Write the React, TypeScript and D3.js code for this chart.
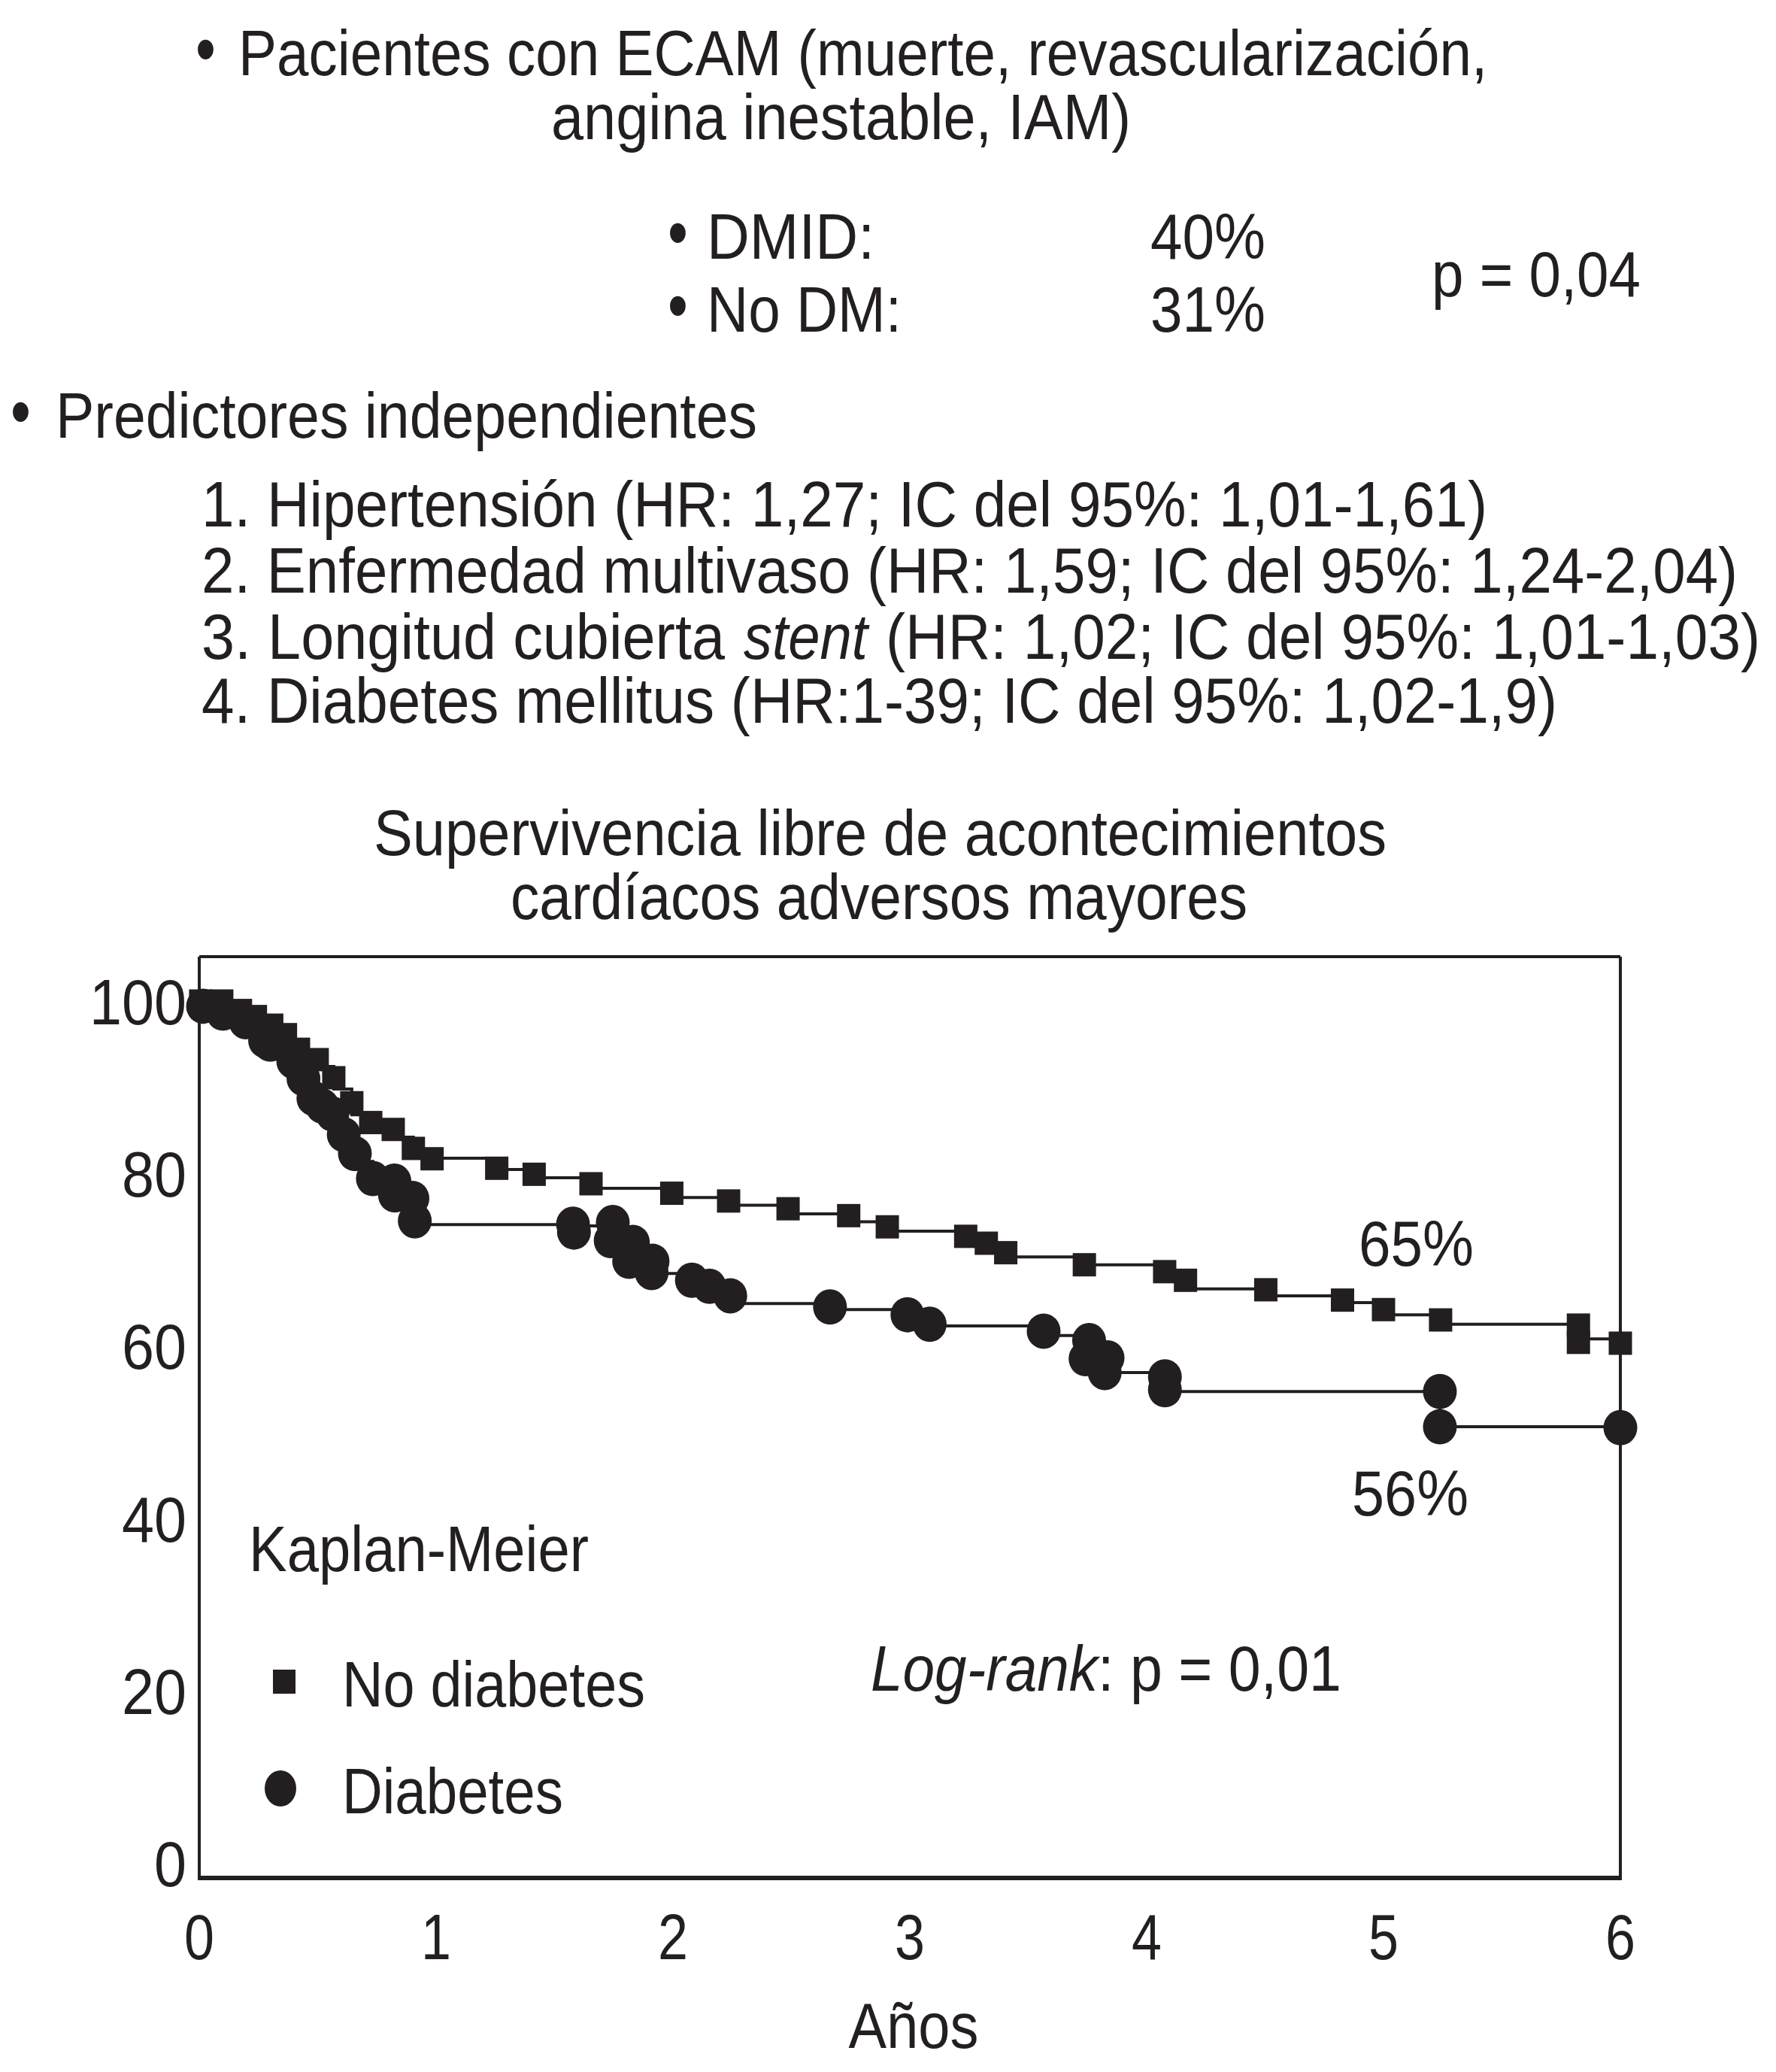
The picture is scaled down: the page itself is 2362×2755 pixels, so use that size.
import React, { useLayoutEffect, useRef, useState } from 'react';
import * as d3 from 'd3';

// ---- Data ----
const yearTicks = [0, 1, 2, 3, 4, 5, 6];
const survivalTicks = [0, 20, 40, 60, 80, 100];

// No diabetes: Kaplan-Meier step curve (time in years, survival %)
const noDiabCurveT = [0, 0.174, 0.237, 0.306, 0.364, 0.419, 0.498, 0.568, 0.644, 0.724, 0.819, 0.904, 0.983, 1.256, 1.414, 1.654, 1.995, 2.235, 2.486, 2.742, 2.905, 3.236, 3.323, 3.405, 3.737, 4.076, 4.164, 4.503, 4.827, 5.0, 5.241, 5.823, 6.0];
const noDiabCurveV = [100, 98.4, 97.8, 96.6, 95.4, 93.8, 92.4, 89.8, 86.8, 85.5, 84.2, 82.2, 81.76, 80.45, 79.5, 78.27, 77.2, 76.3, 75.3, 74.4, 73.3, 72.3, 71.3, 70.3, 69.4, 68.0, 66.6, 65.8, 65.0, 63.6, 62.5, 60.8, 60.8];
// No diabetes: square markers
const noDiabMarkT = [0.006, 0.095, 0.174, 0.237, 0.306, 0.364, 0.419, 0.498, 0.568, 0.644, 0.724, 0.819, 0.904, 0.983, 1.256, 1.414, 1.654, 1.995, 2.235, 2.486, 2.742, 2.905, 3.236, 3.323, 3.405, 3.737, 4.076, 4.164, 4.503, 4.827, 5.0, 5.241, 5.823, 5.823, 6.0];
const noDiabMarkV = [100, 100, 98.9, 98.2, 97.2, 96.1, 94.4, 93.2, 91.1, 88.2, 85.9, 85.1, 82.9, 81.7, 80.6, 79.9, 78.8, 77.7, 76.8, 75.9, 75.1, 73.8, 72.7, 71.9, 70.8, 69.4, 68.6, 67.6, 66.5, 65.3, 64.2, 63.0, 62.4, 60.4, 60.3];

// Diabetes: Kaplan-Meier step curve
const diabCurveT = [0, 0.016, 0.1, 0.196, 0.278, 0.397, 0.44, 0.482, 0.52, 0.562, 0.61, 0.657, 0.733, 0.826, 0.9, 0.91, 1.578, 1.737, 1.831, 1.91, 2.08, 2.154, 2.242, 2.663, 2.99, 3.084, 3.565, 3.742, 3.823, 4.077, 5.238, 6.0];
const diabCurveV = [100, 98.8, 98.2, 96.6, 95.0, 92.4, 90.4, 88.0, 87.4, 85.6, 83.8, 81.4, 79.0, 77.0, 76.0, 74.06, 73.9, 72.4, 70.5, 68.4, 67.3, 66.3, 64.9, 64.2, 63.2, 62.3, 61.2, 59.5, 56.9, 54.7, 50.6, 50.6];
// Diabetes: circle markers
const diabMarkT = [0.016, 0.1, 0.196, 0.278, 0.3, 0.397, 0.44, 0.482, 0.52, 0.562, 0.61, 0.657, 0.733, 0.824, 0.826, 0.9, 0.91, 1.578, 1.582, 1.737, 1.746, 1.815, 1.831, 1.91, 1.914, 2.08, 2.154, 2.242, 2.663, 2.99, 3.084, 3.565, 3.742, 3.757, 3.823, 3.835, 4.077, 4.077, 5.238, 5.238, 6.0];
const diabMarkV = [99.4, 98.6, 97.6, 95.4, 95.0, 93.0, 91.0, 88.7, 87.8, 86.9, 84.5, 82.3, 79.4, 79.1, 77.5, 77.1, 74.5, 74.1, 73.2, 72.2, 74.3, 69.8, 72.0, 68.5, 69.8, 67.6, 66.9, 65.8, 64.5, 63.6, 62.5, 61.7, 58.5, 60.6, 56.9, 58.6, 56.4, 54.9, 54.7, 50.6, 50.5];

const INK = '#231f20';
const FONT = "'Liberation Sans', Arimo, Arial, sans-serif";
const FS = 86;
const DEFAULT_SX = 0.8;

type TProps = { x: number; y: number; w?: number; anchor?: 'start' | 'middle' | 'end'; italic?: boolean; children: React.ReactNode; size?: number };

// Text horizontally condensed (the reference uses a condensed typeface); when w is
// given, the condensing factor is measured so the text spans w pixels.
function T({ x, y, w, anchor = 'start', italic, children, size = FS }: TProps) {
  const ref = useRef<SVGTextElement>(null);
  const [sx, setSx] = useState(DEFAULT_SX);
  useLayoutEffect(() => {
    if (w && ref.current) {
      const len = ref.current.getComputedTextLength();
      if (len > 0) setSx(w / len);
    }
  }, [w]);
  return (
    <text
      ref={ref}
      transform={`translate(${x},${y}) scale(${sx},1)`}
      x={0}
      y={0}
      textAnchor={anchor}
      fontFamily={FONT}
      fontSize={size}
      fill={INK}
      fontStyle={italic ? 'italic' : 'normal'}
    >
      {children}
    </text>
  );
}

export default function App() {
  const W = 2362;
  const H = 2755;
  const left = 265, right = 2155, top = 1272, bottom = 2497;

  const x = d3.scaleLinear().domain([0, 6]).range([left, right]);
  const y = d3.scaleLinear().domain([0, 100]).range([2477, 1331]);

  const line = d3
    .line<[number, number]>()
    .x((d) => x(d[0]))
    .y((d) => y(d[1]))
    .curve(d3.curveStepAfter);

  const noDiabPts: [number, number][] = noDiabCurveT.map((t, i) => [t, noDiabCurveV[i]]);
  const diabPts: [number, number][] = diabCurveT.map((t, i) => [t, diabCurveV[i]]);

  const sq = 31;
  const r = 22.5;
  const yLabelW = (v: number) => String(v).length * 43;

  return (
    <div style={{ position: 'absolute', left: 0, top: 0, background: '#fff' }}>
      <svg width={W} height={H} viewBox={`0 0 ${W} ${H}`} style={{ display: 'block', background: '#fff' }}>
        <rect x={0} y={0} width={W} height={H} fill="#fff" />

        {/* Header text */}
        <T x={260} y={98} size={96}>•</T>
        <T x={317} y={100} w={1661}>Pacientes con ECAM (muerte, revascularización,</T>
        <T x={733} y={185} w={771}>angina inestable, IAM)</T>

        <T x={888} y={342} size={96}>•</T>
        <T x={940} y={344} w={223}>DMID:</T>
        <T x={1530} y={344} w={153}>40%</T>
        <T x={888} y={439} size={96}>•</T>
        <T x={940} y={441} w={259}>No DM:</T>
        <T x={1530} y={441} w={153}>31%</T>
        <T x={1904} y={394} w={278}>p = 0,04</T>

        <T x={14} y={580} size={96}>•</T>
        <T x={74} y={582} w={933}>Predictores independientes</T>

        <T x={268} y={700} w={1710}>1. Hipertensión (HR: 1,27; IC del 95%: 1,01-1,61)</T>
        <T x={268} y={788} w={2043}>2. Enfermedad multivaso (HR: 1,59; IC del 95%: 1,24-2,04)</T>
        <T x={268} y={876} w={696}>3. Longitud cubierta</T>
        <T x={989} y={876} w={165} italic>stent</T>
        <T x={1178} y={876} w={1163}>(HR: 1,02; IC del 95%: 1,01-1,03)</T>
        <T x={268} y={961} w={1803}>4. Diabetes mellitus (HR:1-39; IC del 95%: 1,02-1,9)</T>

        {/* Chart title */}
        <T x={497} y={1137} w={1347}>Supervivencia libre de acontecimientos</T>
        <T x={679} y={1222} w={980}>cardíacos adversos mayores</T>

        {/* Plot frame */}
        <line x1={left} y1={top} x2={right} y2={top} stroke={INK} strokeWidth={4} />
        <line x1={right} y1={top} x2={right} y2={bottom} stroke={INK} strokeWidth={4} />
        <line x1={left} y1={top} x2={left} y2={bottom} stroke={INK} strokeWidth={4} />
        <line x1={left - 2} y1={bottom} x2={right + 2} y2={bottom} stroke={INK} strokeWidth={6} />

        {/* Y tick labels */}
        {survivalTicks.map((v) => (
          <T key={'y' + v} x={248} y={y(v) + 31} anchor="end" w={yLabelW(v)}>
            {String(v)}
          </T>
        ))}

        {/* X tick labels */}
        {yearTicks.map((t) => (
          <T key={'x' + t} x={x(t)} y={2605} anchor="middle" w={40}>
            {String(t)}
          </T>
        ))}
        <T x={1215} y={2723} anchor="middle" w={173}>Años</T>

        {/* Curves */}
        <path d={line(noDiabPts) || ''} fill="none" stroke={INK} strokeWidth={4} />
        <path d={line(diabPts) || ''} fill="none" stroke={INK} strokeWidth={4} />

        {/* Markers */}
        {noDiabMarkT.map((t, i) => (
          <rect key={'s' + i} x={x(t) - sq / 2} y={y(noDiabMarkV[i]) - sq / 2} width={sq} height={sq} fill={INK} />
        ))}
        {diabMarkT.map((t, i) => (
          <ellipse key={'c' + i} cx={x(t)} cy={y(diabMarkV[i])} rx={r} ry={r + 1} fill={INK} />
        ))}

        {/* Annotations */}
        <T x={1807} y={1683} w={153}>65%</T>
        <T x={1798} y={2015} w={155}>56%</T>
        <T x={331} y={2089} w={452}>Kaplan-Meier</T>

        {/* Legend */}
        <rect x={363} y={2220} width={30} height={32} fill={INK} />
        <T x={455} y={2269} w={403}>No diabetes</T>
        <ellipse cx={373} cy={2378} rx={21} ry={24} fill={INK} />
        <T x={455} y={2411} w={294}>Diabetes</T>

        <T x={1158} y={2248} w={302} italic>Log-rank</T>
        <T x={1460} y={2248} w={324}>: p = 0,01</T>
      </svg>
    </div>
  );
}
